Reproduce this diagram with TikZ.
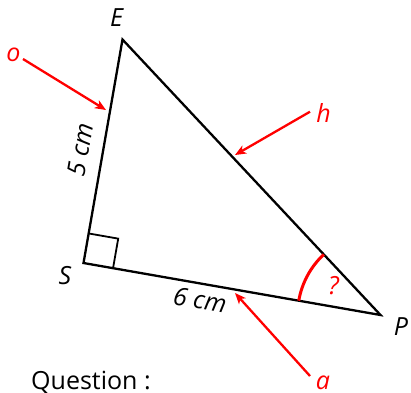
\documentclass[tikz,border=0pt]{standalone}
\usepackage{fontspec}
\setmainfont{Open Sans}
\usetikzlibrary{arrows.meta,calc}
\begin{document}
\begin{tikzpicture}[x=1pt,y=-1pt,
  lbl/.style={font=\fontsize{25}{29}\selectfont\itshape, inner sep=0pt},
  redlbl/.style={lbl, text=red},
  side/.style={line width=2.3pt, line join=miter},
  redarrow/.style={red, line width=2.3pt, -{Stealth[length=11pt,width=9pt,inset=3pt]}},
]
\useasboundingbox (0,0) rectangle (411,392);
\coordinate (E) at (122.5,39.5);
\coordinate (S) at (83.5,263);
\coordinate (P) at (380.5,315);
\draw[side] (E) -- (S) -- (P) -- cycle;
% right angle
\coordinate (q1) at ($(S)!30pt!(E)$);
\coordinate (q2) at ($(S)!30pt!(P)$);
\coordinate (q3) at ($(q1)+(q2)-(S)$);
\draw[line width=1.8pt] (q1) -- (q3) -- (q2);
% angle at P
\draw[red, line width=3pt] ($(P)+(170.07:83pt)$) arc[start angle=170.07, end angle=133.12, radius=83pt];
\node[redlbl] (qm) at (333.5,286) {?};
% vertex labels
\node[lbl] (lE) at (116.5,18) {E};
\node[lbl] (lS) at (65,276) {S};
\node[lbl] (lP) at (401,327) {P};
% side lengths
\node[lbl, rotate=80.1] (l5) at (80,150) {5 cm};
\node[lbl, rotate=-9.9] (l6) at (200,300) {6 cm};
% red labels and arrows
\node[redlbl] (o) at (13.5,55) {o};
\node[redlbl] (h) at (323.5,112.5) {h};
\node[redlbl] (a) at (323,383) {a};
\coordinate (o1) at (23,59);
\coordinate (o2) at (106,110);
\coordinate (h1) at (310,111.7);
\coordinate (h2) at (235,155);
\coordinate (a1) at (310,376);
\coordinate (a2) at (235,293);
\draw[redarrow] (o1) -- (o2);
\draw[redarrow] (h1) -- (h2);
\draw[redarrow] (a1) -- (a2);
% question
\node[font=\fontsize{25}{29}\selectfont, inner sep=0pt, anchor=base west] (q) at (31,389) {Question :};
\end{tikzpicture}
\end{document}
